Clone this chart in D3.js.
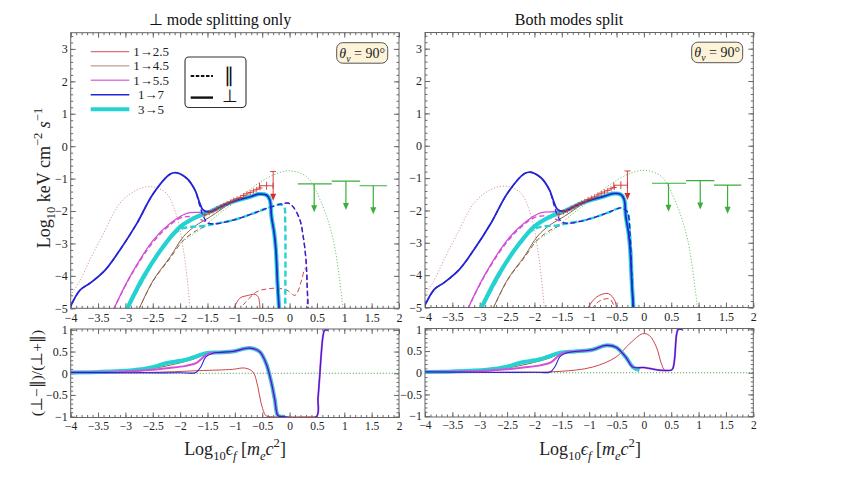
<!DOCTYPE html>
<html>
<head>
<meta charset="utf-8">
<script src="https://cdn.jsdelivr.net/npm/d3@7"></script>
<style>
  body { margin: 0; background: #fff; }
  text { font-family: "Liberation Serif", serif; }
</style>
</head>
<body>
<svg width="858" height="483"></svg>
<script>
// ---------- values ----------
const xMajor = [-4, -3.5, -3, -2.5, -2, -1.5, -1, -0.5, 0, 0.5, 1, 1.5, 2];
const yMajorTop = [-5, -4, -3, -2, -1, 0, 1, 2, 3];
const yMajorBot = [-1, -0.5, 0, 0.5, 1];

const legendNames = ["1\u21922.5", "1\u21924.5", "1\u21925.5", "1\u21927", "3\u21925"];

// top panels, dotted model curves (same in both)
const seedDotted = [[-4,-4.6],[-3.83,-4.15],[-3.65,-3.51],[-3.4,-2.69],[-3.1,-1.76],[-2.79,-1.35],[-2.52,-1.25],[-2.25,-1.46],[-2.06,-2.18],[-1.94,-3.2],[-1.85,-4.44],[-1.82,-5.05]];
const greenDotted = [[-2.05,-3.05],[-1.88,-2.85],[-1.64,-2.58],[-1.3,-2.1],[-1.03,-1.76],[-0.66,-1.25],[-0.3,-0.89],[0,-0.76],[0.31,-0.94],[0.56,-1.66],[0.8,-2.9],[0.98,-5.05]];

// perpendicular mode (solid) heads, then shared high branch
const perp17Head = [[-4,-4.93],[-3.83,-4.44],[-3.65,-4.23],[-3.37,-3.82],[-3.1,-3.2],[-2.79,-2.38],[-2.49,-1.46],[-2.18,-0.86],[-2.06,-0.82],[-1.88,-0.99],[-1.73,-1.35],[-1.64,-1.76],[-1.58,-1.97],[-1.45,-2.02],[-1.25,-1.86]];
const perp55Head = [[-3.22,-5.05],[-2.92,-4.03],[-2.49,-2.9],[-2.18,-2.38],[-1.88,-2.07],[-1.64,-2.04],[-1.45,-2.02],[-1.25,-1.86]];
const perp45Head = [[-2.76,-5.05],[-2.49,-4.13],[-2.18,-3.41],[-1.94,-2.79],[-1.7,-2.43],[-1.45,-2.18],[-1.25,-1.95]];
const perp35Head = [[-2.98,-5.05],[-2.67,-4.03],[-2.31,-3.1],[-2.0,-2.49],[-1.7,-2.18],[-1.45,-2.02],[-1.25,-1.86]];
const perpTail = [[-1.03,-1.71],[-0.72,-1.56],[-0.57,-1.48],[-0.42,-1.51],[-0.36,-1.66],[-0.33,-2.18],[-0.28,-2.69],[-0.25,-3.2],[-0.22,-4.23],[-0.19,-5.05]];

// parallel mode (dashed) heads, shared low branch, and the endings of each panel
const par17Head = [[-4,-4.93],[-3.83,-4.44],[-3.65,-4.23],[-3.37,-3.82],[-3.1,-3.2],[-2.79,-2.38],[-2.49,-1.46],[-2.18,-0.86],[-2.06,-0.82],[-1.88,-0.99],[-1.73,-1.35],[-1.64,-1.85],[-1.58,-2.15],[-1.5,-2.36]];
const par55Head = [[-3.22,-5.05],[-2.92,-4.05],[-2.49,-2.95],[-2.2,-2.45],[-2.0,-2.22],[-1.8,-2.17],[-1.6,-2.28],[-1.48,-2.38]];
const par45Head = [[-2.76,-5.05],[-2.49,-4.15],[-2.18,-3.45],[-1.94,-2.9],[-1.7,-2.6],[-1.5,-2.45]];
const par35Head = [[-2.98,-5.05],[-2.67,-4.1],[-2.4,-3.3],[-2.18,-2.8],[-1.94,-2.53],[-1.58,-2.46]];
const parMid = [[-1.39,-2.4],[-1.03,-2.28],[-0.66,-2.07],[-0.42,-1.92]];
const parEndL = [[-0.17,-1.79],[-0.02,-1.76],[0.07,-1.88],[0.19,-2.28],[0.25,-2.79],[0.3,-3.51],[0.32,-4.23],[0.34,-5.05]];
const par35EndL = [[-0.17,-1.8],[-0.1,-1.86],[-0.08,-2.3],[-0.08,-5.05]];
const parEndR = [[-0.36,-1.96],[-0.3,-2.05],[-0.25,-2.8],[-0.22,-4.0],[-0.2,-5.05]];

// 1→2.5 near the floor
const perp25L = [[-1.03,-5.05],[-0.91,-4.69],[-0.75,-4.6],[-0.63,-4.57],[-0.57,-4.66],[-0.54,-5.05]];
const par25L = [[-0.85,-4.9],[-0.6,-4.49],[-0.4,-4.4],[-0.24,-4.38],[-0.05,-4.44],[0.1,-4.6],[0.22,-4.13],[0.28,-3.77],[0.31,-3.85],[0.32,-5.05]];
const perp25R = [[-1.04,-5.05],[-0.86,-4.67],[-0.65,-4.57],[-0.53,-4.79],[-0.5,-5.05]];
const par25R = [[-0.96,-5.05],[-0.8,-4.79],[-0.62,-4.74],[-0.53,-5.05]];

// observations
const obsX = [-1.55,-1.47,-1.4,-1.33,-1.26,-1.2,-1.14,-1.08,-1.02,-0.96,-0.9,-0.84,-0.78,-0.72,-0.66,-0.6,-0.54];
const obsY = [-2.12,-2.05,-2.0,-1.93,-1.88,-1.82,-1.77,-1.72,-1.66,-1.62,-1.58,-1.52,-1.47,-1.43,-1.38,-1.33,-1.29];
const errPoint = {x: -0.42, y: -1.22, xlo: -0.55, xhi: -0.3};
const redLimit = {x: -0.3, top: -0.78, tip: -1.68};
const greenLimits = [
  {xlo: 0.15, xhi: 0.77, x: 0.45, y: -1.16, tip: -2.04},
  {xlo: 0.77, xhi: 1.29, x: 1.03, y: -1.08, tip: -1.97},
  {xlo: 1.28, xhi: 1.78, x: 1.53, y: -1.22, tip: -2.1}
];

// bottom panels: polarisation fraction
const r17Head = [[-4,0.02],[-3,0.01],[-2,0.01],[-1.71,0.02],[-1.62,0.15],[-1.53,0.38],[-1.4,0.46]];
const r55Head = [[-4,0.02],[-3,0.04],[-2.5,0.08],[-2.2,0.12],[-1.9,0.17],[-1.7,0.24],[-1.55,0.4],[-1.45,0.47]];
const r45Head = [[-4,0.02],[-3,0.05],[-2.5,0.11],[-2,0.24],[-1.7,0.35],[-1.5,0.46]];
const r35Head = [[-4,0.02],[-3.5,0.03],[-2.87,0.07],[-2.5,0.14],[-2.26,0.23],[-1.9,0.31],[-1.53,0.46]];
const rTailL = [[-1.3,0.48],[-1.04,0.5],[-0.73,0.58],[-0.55,0.5],[-0.43,0.23],[-0.33,-0.23],[-0.27,-0.61],[-0.21,-0.98],[-0.12,-1]];
const rEndL = [[0.49,-1],[0.52,-0.58],[0.55,-0.08],[0.58,0.46],[0.61,0.85],[0.64,0.99],[0.7,0.99]];
const r25L = [[-4,0.01],[-3,0.01],[-2.26,0.03],[-1.65,0.06],[-1.04,0.09],[-0.82,0.12],[-0.67,0.03],[-0.58,-0.31],[-0.52,-0.69],[-0.43,-0.98],[-0.35,-1],[0.5,-1]];
const rTailR = [[-1.26,0.49],[-0.94,0.53],[-0.7,0.63],[-0.51,0.59],[-0.33,0.36],[-0.2,0.13]];
const rEndR = [[0,0.12],[0.29,0.06],[0.5,0.06],[0.53,0.1],[0.56,0.3],[0.6,0.9],[0.63,1],[0.7,1]];
const r35EndR = [[-0.08,0.06]];
const r25R = [[-4,0],[-2.5,0.01],[-1.55,0.03],[-0.94,0.13],[-0.51,0.36],[-0.26,0.67],[-0.02,0.9],[0.1,0.86],[0.23,0.59],[0.32,0.21],[0.38,0.06],[0.45,0.05]];

// ---------- drawing ----------
const col = {r25: "#c9464b", b45: "#8a6446", m55: "#d24fd6", b17: "#2424d4", c35: "#25d2d2"};
const svg = d3.select("svg");
const fmt = d3.format("~g");
const xMinor = d3.range(-4, 2.001, 0.1);

function rich(t, parts, fs) {
  let cur = 0;
  parts.forEach(([s, kind, it]) => {
    const off = kind === "sub" ? 0.3 * fs : kind === "sup" ? -0.42 * fs : 0;
    t.append("tspan")
      .attr("dy", off - cur)
      .attr("font-size", kind ? fs * 0.7 : fs)
      .attr("font-style", it ? "italic" : null)
      .text(s);
    cur = off;
  });
}

function panel(id, box, yDom, yMajor, yMinorStep, xPad, xFont, series) {
  const x = d3.scaleLinear().domain([-4, 2]).range([box.x0, box.x1]);
  const y = d3.scaleLinear().domain(yDom).range([box.y1, box.y0]);
  const g = svg.append("g");

  g.append("clipPath").attr("id", id)
    .append("rect").attr("x", box.x0).attr("y", box.y0)
    .attr("width", box.x1 - box.x0).attr("height", box.y1 - box.y0);

  const yMinor = d3.range(yDom[0] < -2 ? -5 : -1, yDom[1], yMinorStep);
  const axes = [
    [d3.axisBottom(x).tickValues(xMajor).tickSize(-5).tickPadding(xPad).tickFormat(fmt), `translate(0,${box.y1})`, xFont],
    [d3.axisBottom(x).tickValues(xMinor).tickSize(-2.5).tickFormat(""), `translate(0,${box.y1})`],
    [d3.axisTop(x).tickValues(xMajor).tickSize(-5).tickFormat(""), `translate(0,${box.y0})`],
    [d3.axisTop(x).tickValues(xMinor).tickSize(-2.5).tickFormat(""), `translate(0,${box.y0})`],
    [d3.axisLeft(y).tickValues(yMajor).tickSize(-5).tickPadding(3).tickFormat(fmt), `translate(${box.x0},0)`, 12],
    [d3.axisLeft(y).tickValues(yMinor).tickSize(-2.5).tickFormat(""), `translate(${box.x0},0)`],
    [d3.axisRight(y).tickValues(yMajor).tickSize(-5).tickFormat(""), `translate(${box.x1},0)`],
    [d3.axisRight(y).tickValues(yMinor).tickSize(-2.5).tickFormat(""), `translate(${box.x1},0)`]
  ];
  axes.forEach(([ax, tr, fs]) => {
    const a = g.append("g").attr("transform", tr).call(ax);
    a.select(".domain").remove();
    a.selectAll("line").attr("stroke", "#6a6a6a");
    a.attr("font-family", "Liberation Serif").attr("font-size", fs || 12);
    a.selectAll("text").attr("fill", "#222");
  });

  const line = d3.line().x(d => x(d[0])).y(d => y(d[1])).curve(d3.curveCatmullRom.alpha(0.5));
  const plot = g.append("g").attr("clip-path", `url(#${id})`);
  series.forEach(s => {
    plot.append("path")
      .attr("d", line(s.d))
      .attr("fill", "none")
      .attr("stroke", s.c)
      .attr("stroke-width", s.w)
      .attr("stroke-dasharray", s.dash || null)
      .attr("stroke-dashoffset", s.off || 0)
      .attr("stroke-linejoin", "round");
  });

  g.append("rect").attr("x", box.x0).attr("y", box.y0)
    .attr("width", box.x1 - box.x0).attr("height", box.y1 - box.y0)
    .attr("fill", "none").attr("stroke", "#666").attr("stroke-width", 1);

  return {g, plot, x, y};
}

function topSeries(right) {
  const parEnd = right ? parEndR : parEndL;
  return [
    {d: seedDotted, c: "#d9959c", w: 1, dash: "1.2,1.8"},
    {d: greenDotted, c: "#72c672", w: 1, dash: "1.2,1.8"},
    {d: right ? par25R : par25L, c: col.r25, w: 1, dash: "5,3"},
    {d: right ? perp25R : perp25L, c: col.r25, w: 1},
    {d: par45Head.concat(parMid, parEnd), c: col.b45, w: 1, dash: "5,3"},
    {d: perp45Head.concat(perpTail), c: col.b45, w: 1},
    {d: par55Head.concat(parMid, parEnd), c: col.m55, w: 1.4, dash: "5,3"},
    {d: perp55Head.concat(perpTail), c: col.m55, w: 1.3},
    {d: perp35Head.concat(perpTail), c: col.c35, w: 4.2},
    {d: par35Head.concat(parMid, right ? parEndR : par35EndL), c: col.c35, w: 2.4, dash: "6,3"},
    {d: par17Head.concat(parMid, parEnd), c: col.b17, w: 1.3, dash: "5,3", off: 4},
    {d: perp17Head.concat(perpTail), c: col.b17, w: 1.8}
  ];
}

function botSeries(right) {
  const tail = right ? rTailR : rTailL;
  const end = right ? rEndR : rEndL;
  return [
    {d: [[-4, 0], [2, 0]], c: "#5aa85a", w: 1, dash: "1.2,1.8"},
    {d: right ? r25R : r25L, c: col.r25, w: 1},
    {d: r45Head.concat(tail), c: col.b45, w: 1},
    {d: r35Head.concat(tail, right ? r35EndR : [[-0.1, -1]]), c: col.c35, w: 4},
    {d: r55Head.concat(tail, end), c: col.m55, w: 2},
    {d: r17Head.concat(tail, end), c: col.b17, w: 1.1}
  ];
}

function marks(p) {
  const {plot, x, y} = p;
  const red = "#d23030", green = "#3aae3a";
  obsX.forEach((v, i) => {
    plot.append("path")
      .attr("d", `M${x(v) - 2.5},${y(obsY[i])}h5M${x(v)},${y(obsY[i]) - 2.5}v5`)
      .attr("stroke", red).attr("stroke-width", 0.9);
  });
  plot.append("path")
    .attr("d", `M${x(errPoint.xlo)},${y(errPoint.y)}H${x(errPoint.xhi)}` +
      `M${x(errPoint.xlo)},${y(errPoint.y) - 3}v6M${x(errPoint.xhi)},${y(errPoint.y) - 3}v6` +
      `M${x(errPoint.x)},${y(errPoint.y) - 4}v8`)
    .attr("stroke", red).attr("stroke-width", 0.9).attr("fill", "none");
  plot.append("path")
    .attr("d", `M${x(redLimit.x) - 3},${y(redLimit.top)}h6M${x(redLimit.x)},${y(redLimit.top)}V${y(redLimit.tip) - 6}`)
    .attr("stroke", red).attr("stroke-width", 0.9);
  plot.append("path")
    .attr("d", `M${x(redLimit.x) - 3},${y(redLimit.tip) - 7}h6L${x(redLimit.x)},${y(redLimit.tip)}Z`)
    .attr("fill", red);
  greenLimits.forEach(l => {
    plot.append("path")
      .attr("d", `M${x(l.xlo)},${y(l.y)}H${x(l.xhi)}M${x(l.x)},${y(l.y)}V${y(l.tip) - 6}`)
      .attr("stroke", green).attr("stroke-width", 1.2).attr("fill", "none");
    plot.append("path")
      .attr("d", `M${x(l.x) - 3},${y(l.tip) - 7}h6L${x(l.x)},${y(l.tip)}Z`)
      .attr("fill", green);
  });
}

function thetaBox(x0, y0) {
  svg.append("rect").attr("x", x0).attr("y", y0).attr("width", 51).attr("height", 20.5)
    .attr("rx", 6).attr("fill", "#fcf3d9").attr("stroke", "#555").attr("stroke-width", 1);
  const t = svg.append("text").attr("x", x0 + 25.5).attr("y", y0 + 15)
    .attr("text-anchor", "middle").attr("fill", "#222");
  rich(t, [["\u03b8", "", true], ["v", "sub", true], [" = 90\u00b0", ""]], 14);
}

const TL = panel("cTL", {x0: 70.7, x1: 399, y0: 32.7, y1: 308.3}, [-5, 3.5], yMajorTop, 0.2, 5, 12, topSeries(false));
marks(TL);
const TR = panel("cTR", {x0: 425, x1: 753.3, y0: 32.5, y1: 307.5}, [-5, 3.5], yMajorTop, 0.2, 5, 12, topSeries(true));
marks(TR);
panel("cBL", {x0: 70.7, x1: 399, y0: 329, y1: 417.5}, [-1.02, 1.02], yMajorBot, 0.1, 4, 11.5, botSeries(false));
panel("cBR", {x0: 425, x1: 753.3, y0: 328.5, y1: 417}, [-1.02, 1.02], yMajorBot, 0.1, 4, 11.5, botSeries(true));

thetaBox(336.7, 42.7);
thetaBox(691.7, 42.2);

// colour legend
const legWidths = [1.2, 1, 1.4, 1.6, 4];
const legColors = [col.r25, col.b45, col.m55, col.b17, col.c35];
const legRows = [51.7, 65.9, 80.3, 94.8, 109.2];
legendNames.forEach((n, i) => {
  svg.append("line").attr("x1", 90.7).attr("x2", 129.3).attr("y1", legRows[i]).attr("y2", legRows[i])
    .attr("stroke", legColors[i]).attr("stroke-width", legWidths[i]).attr("opacity", i < 3 ? 0.75 : 1);
  svg.append("text").attr("x", 151).attr("y", legRows[i] + 4.4).attr("text-anchor", "middle")
    .attr("font-size", 13).attr("fill", "#222").text(n);
});

// mode legend
svg.append("rect").attr("x", 185).attr("y", 57).attr("width", 61).attr("height", 50.5)
  .attr("rx", 4).attr("fill", "#fff").attr("stroke", "#333").attr("stroke-width", 1.1);
svg.append("line").attr("x1", 190.7).attr("x2", 213).attr("y1", 76).attr("y2", 76)
  .attr("stroke", "#111").attr("stroke-width", 2).attr("stroke-dasharray", "3.5,1.6");
svg.append("line").attr("x1", 190.7).attr("x2", 213).attr("y1", 97.6).attr("y2", 97.6)
  .attr("stroke", "#111").attr("stroke-width", 2.4);
svg.append("text").attr("x", 228.5).attr("y", 81.5).attr("text-anchor", "middle")
  .attr("font-size", 20).attr("fill", "#111").text("\u2225");
svg.append("text").attr("x", 230).attr("y", 101.5).attr("text-anchor", "middle")
  .attr("font-size", 18).attr("fill", "#111").text("\u22a5");

// titles
[["\u22a5 mode splitting only", 220], ["Both modes split", 569]].forEach(([s, cx]) => {
  svg.append("text").attr("x", cx).attr("y", 25).attr("text-anchor", "middle")
    .attr("font-family", "Lato").attr("font-size", 16).attr("fill", "#111").text(s);
});

// axis titles
const yt = svg.append("text").attr("transform", "translate(50,178) rotate(-90)")
  .attr("text-anchor", "middle").attr("fill", "#222");
rich(yt, [["Log"], ["10", "sub"], [" keV cm", ""], ["\u22122", "sup"], [" ", ""], ["s", "", true], ["\u22121", "sup"]], 18);

svg.append("text").attr("transform", "translate(42,373) rotate(-90)")
  .attr("text-anchor", "middle").attr("font-size", 15.5).attr("fill", "#222")
  .text("(\u22a5\u2212\u2225)/(\u22a5+\u2225)");

[235, 590].forEach(cx => {
  const t = svg.append("text").attr("x", cx).attr("y", 455).attr("text-anchor", "middle").attr("fill", "#222");
  rich(t, [["Log"], ["10", "sub"], ["\u03f5", "", true], ["f", "sub", true], [" [", ""], ["m", "", true], ["e", "sub", true], ["c", "", true], ["2", "sup"], ["]", ""]], 18);
});
</script>
</body>
</html>
